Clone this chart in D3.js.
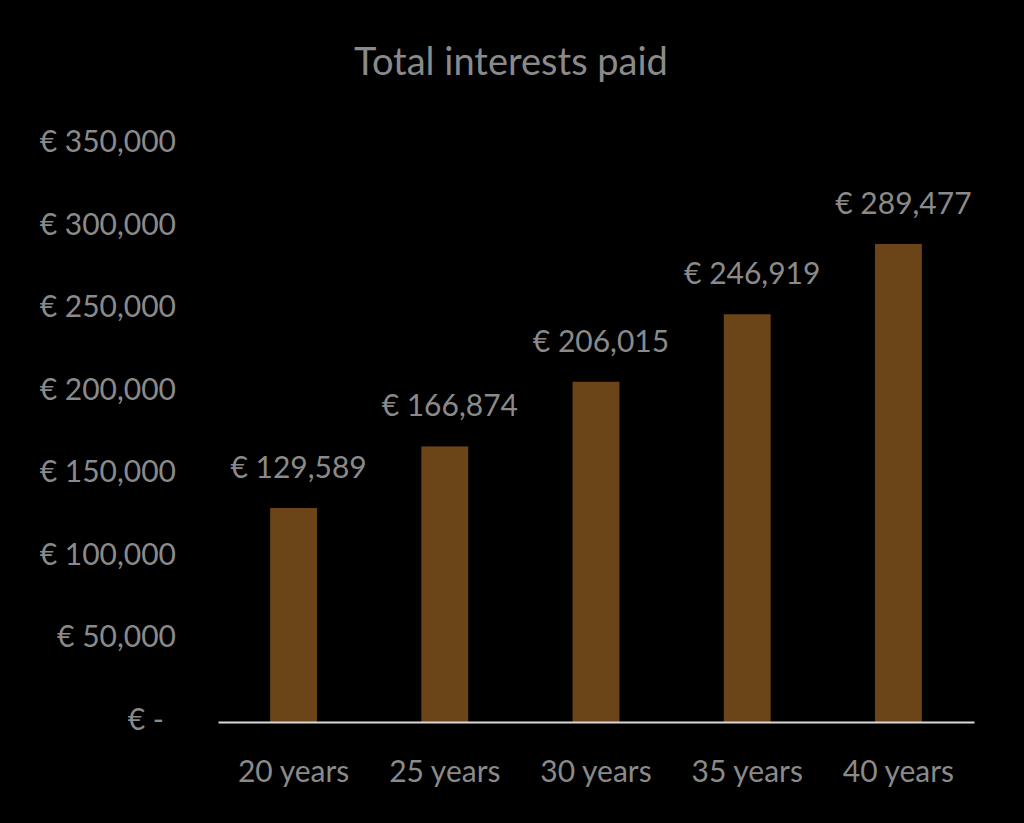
<!DOCTYPE html>
<html><head><meta charset="utf-8">
<script src="https://cdn.jsdelivr.net/npm/d3@7"></script>
<style>html,body{margin:0;padding:0;background:#000;}svg{display:block;}</style>
</head><body>
<script>
const categories = ["20 years","25 years","30 years","35 years","40 years"];
const values = [129589,166874,206015,246919,289477];
const yTicks = [0,50000,100000,150000,200000,250000,300000,350000];
const title = "Total interests paid";

const W=1024,H=823;
const font = "Lato, 'Open Sans', sans-serif";
const svg = d3.select("body").append("svg").attr("width",W).attr("height",H);
svg.append("rect").attr("width",W).attr("height",H).attr("fill","#000");

const x = d3.scaleBand().domain(categories).range([218,974]).paddingInner(0.69).paddingOuter(0.345);
const y = d3.scaleLinear().domain([0,350000]).range([722,144]);

const fmt = v => v===0 ? "€ -" : "€ " + d3.format(",")(v);

svg.append("text").attr("x",511).attr("y",75).attr("text-anchor","middle")
  .attr("font-family",font).attr("font-size",38).attr("fill","#8a8a8a").text(title);

const ya = svg.append("g").attr("transform","translate(176,0)")
  .call(d3.axisLeft(y).tickValues(yTicks).tickFormat(fmt).tickSize(0).tickPadding(0));
ya.select(".domain").remove();
ya.selectAll("text").attr("font-family",font).attr("font-size",30).attr("fill","#8a8a8a")
  .attr("dy","0.25em").attr("dx",d=>d===0?-12:0);

svg.selectAll("rect.bar").data(values).enter().append("rect").attr("class","bar")
  .attr("x",(d,i)=>x(categories[i])).attr("width",x.bandwidth())
  .attr("y",d=>y(d)).attr("height",d=>y(0)-y(d)).attr("fill","#6b4418");

svg.selectAll("text.lbl").data(values).enter().append("text").attr("class","lbl")
  .attr("x",(d,i)=>x(categories[i])+x.bandwidth()/2+5).attr("y",d=>y(d)-30)
  .attr("text-anchor","middle").attr("font-family",font).attr("font-size",30).attr("fill","#8a8a8a")
  .text(fmt);

const xa = svg.append("g").attr("transform","translate(0,722)")
  .call(d3.axisBottom(x).tickSize(0).tickPadding(0));
xa.select(".domain").attr("stroke","#d9d9d9").attr("stroke-width",2);
xa.selectAll("text").attr("font-family",font).attr("font-size",30).attr("fill","#8a8a8a").attr("dy",0).attr("y",60);
</script>
</body></html>
